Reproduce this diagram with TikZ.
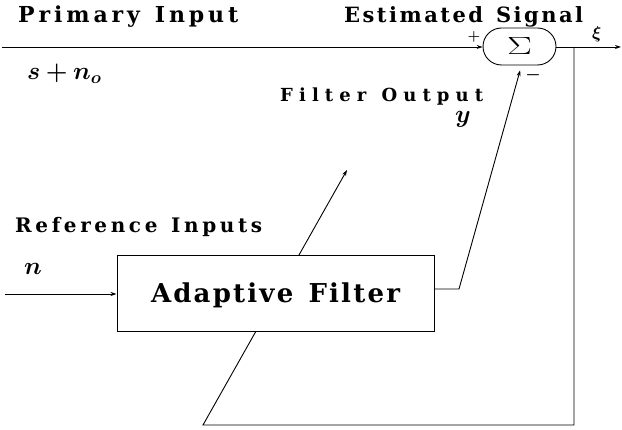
\documentclass[tikz,border=0pt]{standalone}
\usepackage{fontspec}
\usepackage{amsmath,bm}
\usepackage{graphicx}
\usetikzlibrary{arrows.meta,shapes.misc,backgrounds}
\newfontfamily\lblfont{DejaVu Serif}
% spread the letters of a phrase evenly over a box of given width
\def\sprEnd{\sprEnd}
\def\wordgap{\wordgap}
\def\sprA#1{\ifx#1\sprEnd\let\sprNext\relax\else#1\let\sprNext\sprB\fi\sprNext}
\def\sprB#1{\ifx#1\sprEnd\let\sprNext\relax\else
  \ifx#1\wordgap\hfil\hskip0.5em\relax\let\sprNext\sprA
  \else\hfil#1\let\sprNext\sprB\fi\fi\sprNext}
\newcommand\spaced[2]{\hbox to #1{\sprA#2\sprEnd}}
\tikzset{
  wire/.style={line width=0.9pt},
  sig/.style={wire,-{Stealth[length=6pt,width=4pt]}},
  label/.style={inner sep=0pt,anchor=base west},
  mathlbl/.style={inner sep=0pt,anchor=base west},
  sumnode/.style={draw,line width=0.9pt,rounded rectangle,minimum width=73pt,minimum height=37pt,inner sep=0pt,fill=white},
  filterbox/.style={draw,line width=1pt,minimum width=317pt,minimum height=76pt,inner sep=0pt,fill=white},
}
\begin{document}
\begin{tikzpicture}[x=1pt,y=-1pt]
\useasboundingbox (0,0) rectangle (622,430);

% main blocks
\node[sumnode] (sum) at (519.5,46.5) {\fontsize{30}{32}\selectfont\scalebox{1.5}[1]{$\Sigma$}};
\node[filterbox] (af) at (275.5,294) {\lblfont\bfseries\fontsize{26}{28}\selectfont\raisebox{0pt}[18pt][0pt]{\spaced{249pt}{Adaptive\wordgap Filter}}};

% connection points
\coordinate (pin) at (2,47);
\coordinate (nin) at (5,294);
\coordinate (out) at (621,47);
\coordinate (tap) at (574,47);
\coordinate (fbr) at (574,425);
\coordinate (fbl) at (203,425);
\coordinate (adj) at (347,170);
\coordinate (elbow) at (459,289);

% signal paths
\draw[sig] (pin) -- (pin -| sum.west);
\draw[sig] (sum.east |- out) -- (out);
\draw[sig] (nin) -- (af.west);
\draw[sig,shorten >=5pt] (af.east |- elbow) -- (elbow) -- ([xshift=2pt]sum.south);
\begin{pgfonlayer}{background}
\draw[sig] (tap) -- (fbr) -- (fbl) -- (adj);
\end{pgfonlayer}

% labels
\node[label,font=\lblfont\bfseries\fontsize{22}{24}\selectfont] (lp) at (18,23) {\spaced{220pt}{Primary\wordgap Input}};
\node[label,font=\lblfont\bfseries\fontsize{21}{24}\selectfont] (ls) at (344,23) {\spaced{239pt}{Estimated\wordgap Signal}};
\node[label,font=\lblfont\bfseries\fontsize{18}{20}\selectfont] (lf) at (280,102) {\spaced{203pt}{Filter\wordgap Output}};
\node[label,font=\lblfont\bfseries\fontsize{20}{22}\selectfont] (lr) at (15,233) {\spaced{247pt}{Reference\wordgap Inputs}};
\node[mathlbl,font=\fontsize{25}{28}\selectfont] (msn) at (27,80) {$\bm{s+n_{o}}$};
\node[mathlbl,font=\fontsize{24}{26}\selectfont] (mn) at (24,275) {$\bm{n}$};
\node[mathlbl,font=\fontsize{24}{26}\selectfont] (my) at (455,123) {$\bm{y}$};
\node[mathlbl,font=\fontsize{18}{20}\selectfont] (mx) at (592,39) {$\bm{\xi}$};
\node[inner sep=0pt,font=\fontsize{15}{17}\selectfont] (plus) at (474,37) {$\bm{+}$};
\node[inner sep=0pt,font=\fontsize{18}{18}\selectfont] (minus) at (533,75) {$\bm{-}$};
\end{tikzpicture}
\end{document}
